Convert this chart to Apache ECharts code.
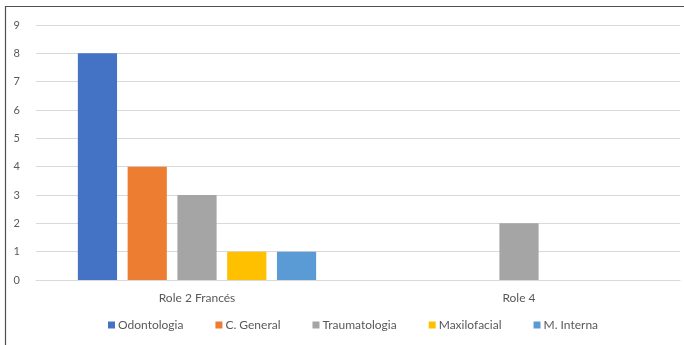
<!DOCTYPE html>
<html>
<head>
<meta charset="utf-8">
<script src="https://cdn.jsdelivr.net/npm/echarts@6/dist/echarts.min.js"></script>
<style>
	html, body { margin: 0; padding: 0; background: #fff; }
	#chart { width: 684px; height: 345px; }
</style>
</head>
<body>
<div id="chart"></div>
<script>
	// categorias y valores
	var categories = ['Role 2 Francés', 'Role 4'];
	var odontologia = [8, 0];
	var cGeneral = [4, 0];
	var traumatologia = [3, 2];
	var maxilofacial = [1, 0];
	var mInterna = [1, 0];
	var yTicks = [0, 1, 2, 3, 4, 5, 6, 7, 8, 9];

	var chart = echarts.init(document.getElementById('chart'), null, {renderer: 'canvas'});
	var font = 'Lato, "Open Sans", sans-serif';

	function bar(name, data, color){
		return {
			name: name,
			type: 'bar',
			data: data,
			itemStyle: {color: color},
			barGap: '27%',
			barCategoryGap: '26%'
		};
	}

	var option = {
		animation: false,
		textStyle: {fontFamily: font},
		graphic: [{
			type: 'rect',
			shape: {x: 5.5, y: 6.5, width: 700, height: 360},
			style: {fill: 'none', stroke: '#505050', lineWidth: 1.2},
			silent: true
		}],
		grid: {left: 36, right: 4, top: 25, bottom: 65, containLabel: false},
		legend: {
			bottom: 9,
			left: 103,
			itemWidth: 7,
			itemHeight: 7,
			itemGap: 32,
			icon: 'rect',
			textStyle: {color: '#595959', fontSize: 12, fontFamily: font, padding: [0, 0, 0, -2]},
			data: ['Odontologia', 'C. General', 'Traumatologia', 'Maxilofacial', 'M. Interna']
		},
		xAxis: {
			type: 'category',
			data: categories,
			axisLine: {show: true, lineStyle: {color: '#d9d9d9'}},
			axisTick: {show: false},
			axisLabel: {color: '#595959', fontSize: 12, margin: 12}
		},
		yAxis: {
			type: 'value',
			min: yTicks[0],
			max: yTicks[yTicks.length - 1],
			interval: 1,
			axisLine: {show: false},
			axisTick: {show: false},
			axisLabel: {color: '#595959', fontSize: 11, margin: 16},
			splitLine: {lineStyle: {color: '#d9d9d9', width: 1}}
		},
		series: [
			bar('Odontologia', odontologia, '#4472C4'),
			bar('C. General', cGeneral, '#ED7D31'),
			bar('Traumatologia', traumatologia, '#A5A5A5'),
			bar('Maxilofacial', maxilofacial, '#FFC000'),
			bar('M. Interna', mInterna, '#5B9BD5')
		]
	};
	chart.setOption(option);
</script>
</body>
</html>
